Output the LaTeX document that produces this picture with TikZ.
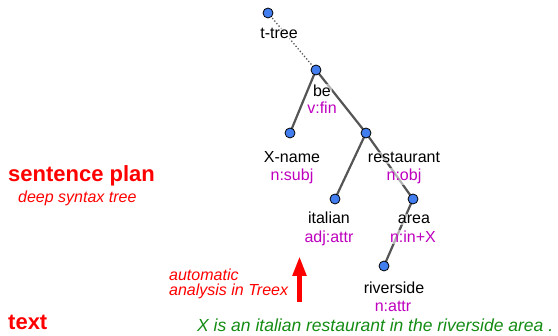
\documentclass[tikz,border=0pt]{standalone}
\usepackage{fontspec}
\setmainfont{Liberation Sans}
\usetikzlibrary{arrows.meta}
\definecolor{role}{RGB}{190,0,190}
\definecolor{nodeblue}{RGB}{66,126,240}
\definecolor{edgegray}{RGB}{85,85,85}
\definecolor{sentgreen}{RGB}{20,140,20}
\tikzset{
  tnode/.style={circle,draw=black,line width=0.8pt,fill=nodeblue,minimum size=10pt,inner sep=0pt},
  tedge/.style={draw=edgegray,line width=2.2pt},
  lemma/.style={anchor=base,inner sep=1pt,font=\fontsize{16}{18}\selectfont,text=black,fill=white,fill opacity=0.55,text opacity=1},
  rolelab/.style={anchor=base,inner sep=1pt,font=\fontsize{16}{18}\selectfont,text=role,fill=white,fill opacity=0.55,text opacity=1},
  bigred/.style={anchor=base west,inner sep=0pt,font=\fontsize{22}{24}\selectfont\bfseries,text=red},
  smallred/.style={anchor=base west,inner sep=0pt,font=\fontsize{16}{18}\selectfont\itshape,text=red}
}
\begin{document}
\begin{tikzpicture}[x=1pt,y=-1pt]
\useasboundingbox (0,0) rectangle (558,336);
% tree node positions
\coordinate (ttree) at (268,13);
\coordinate (be) at (316,70);
\coordinate (xname) at (290,133);
\coordinate (rest) at (366,133);
\coordinate (ital) at (335,199);
\coordinate (area) at (413,199);
\coordinate (river) at (384,266);
% edges
\draw[edgegray,line width=1.3pt,dotted] (ttree) -- (be);
\draw[tedge] (be) -- (xname);
\draw[tedge] (be) -- (rest);
\draw[tedge] (rest) -- (ital);
\draw[tedge] (rest) -- (area);
\draw[tedge] (area) -- (river);
% labels
\node[lemma] (lttree) at (279,39) {t-tree};
\node[lemma] (lbe) at (322,97) {be};
\node[rolelab] (rbe) at (322,114) {v:fin};
\node[lemma] (lxname) at (292,163) {X-name};
\node[rolelab] (rxname) at (292,181) {n:subj};
\node[lemma] (lrest) at (404,163) {restaurant};
\node[rolelab] (rrest) at (404,181) {n:obj};
\node[lemma] (lital) at (329,224) {italian};
\node[rolelab] (rital) at (329,243) {adj:attr};
\node[lemma] (larea) at (414,224) {area};
\node[rolelab] (rarea) at (413,243) {n:in+X};
\node[lemma] (lriver) at (394,294) {riverside};
\node[rolelab] (rriver) at (393,312) {n:attr};
% circles
\foreach \n in {ttree,be,xname,rest,ital,area,river}
  \node[tnode] (c\n) at (\n) {};
% left texts
\node[bigred] (splan) at (8,182) {sentence plan};
\node[smallred] (dst) at (18,203) {deep syntax tree};
\node[bigred] (txt) at (8,330) {text};
\node[smallred] (auto1) at (169,281) {automatic};
\node[smallred] (auto2) at (169,296) {analysis in Treex};
% arrow
\coordinate (abot) at (299.5,302);
\coordinate (atop) at (299.5,256);
\draw[red,line width=5pt,-{Triangle[width=13pt,length=20pt]}] (abot) -- (atop);
% sentence
\node[anchor=base west,inner sep=0pt,font=\fontsize{17.5}{20}\selectfont\itshape,text=sentgreen] (sent) at (197,332) {X is an italian restaurant in the riverside area .};
\end{tikzpicture}
\end{document}
